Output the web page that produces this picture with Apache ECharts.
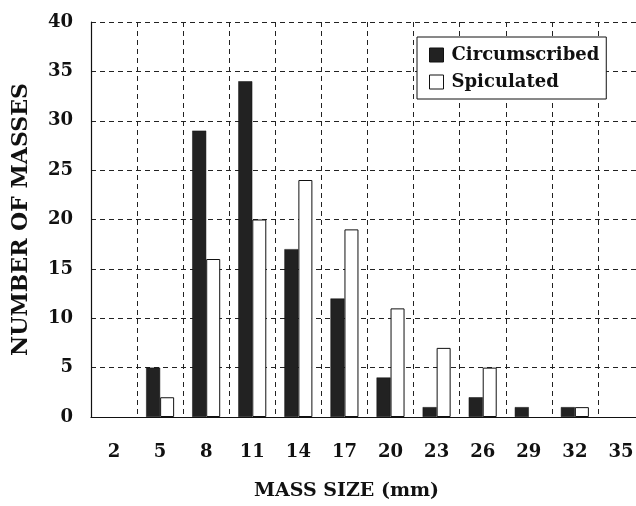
<!DOCTYPE html>
<html>
<head>
<meta charset="utf-8">
<script src="https://cdn.jsdelivr.net/npm/echarts@6/dist/echarts.min.js"></script>
<style>html,body{margin:0;padding:0;background:#fff;overflow:hidden;width:636px;height:506px;}#c{width:644px;height:506px;}</style>
</head>
<body>
<div id="c"></div>
<script>
var categories = ['2','5','8','11','14','17','20','23','26','29','32','35'];
var circumscribed = [0,5,29,34,17,12,4,1,2,1,1,0];
var spiculated = [0,2,16,20,24,19,11,7,5,0,1,0];
var yTicks = {min:0, max:40, interval:5};

function noZero(arr){ return arr.map(function(v){ return v === 0 ? null : v; }); }

var FONT = 'DejaVu Serif';
var chart = echarts.init(document.getElementById('c'), null, {renderer:'canvas'});
chart.setOption({
  animation:false,
  backgroundColor:'#fff',
  grid:{left:91, top:22, bottom:87, right:0, containLabel:false},
  legend:{
    left:417, top:37, orient:'vertical',
    padding:[9,7,8,12], itemGap:9,
    borderColor:'#111', borderWidth:1, backgroundColor:'#fff',
    itemWidth:14, itemHeight:14,
    textStyle:{fontFamily:FONT, fontWeight:'bold', fontSize:18, color:'#111', padding:[0,0,0,3]},
    data:[
      {name:'Circumscribed', icon:'rect', itemStyle:{color:'#222', borderColor:'#111', borderWidth:1}},
      {name:'Spiculated', icon:'rect', itemStyle:{color:'#fff', borderColor:'#111', borderWidth:1}}
    ]
  },
  xAxis:{
    type:'category', data:categories, boundaryGap:true,
    axisLine:{show:true, lineStyle:{color:'#111', width:1.2}},
    axisTick:{show:false},
    axisLabel:{margin:26, fontFamily:FONT, fontWeight:'bold', fontSize:18, color:'#111'},
    splitLine:{show:true, lineStyle:{color:'#222', type:[5,4], width:1}},
    name:'MASS SIZE (mm)', nameLocation:'middle', nameGap:65,
    nameTextStyle:{fontFamily:FONT, fontWeight:'bold', fontSize:19, color:'#111', padding:[0,42,0,0]}
  },
  yAxis:{
    type:'value', min:yTicks.min, max:yTicks.max, interval:yTicks.interval,
    axisLine:{show:true, lineStyle:{color:'#111', width:1.2}},
    axisTick:{show:false},
    axisLabel:{margin:18, fontFamily:FONT, fontWeight:'bold', fontSize:18, color:'#111'},
    splitLine:{show:true, lineStyle:{color:'#222', type:[5,4], width:1}},
    name:'NUMBER OF MASSES', nameLocation:'middle', nameGap:59, nameRotate:90,
    nameTextStyle:{fontFamily:FONT, fontWeight:'bold', fontSize:22, color:'#111'}
  },
  series:[
    {name:'Circumscribed', type:'bar', data:noZero(circumscribed), barWidth:14, barGap:'0%',
     itemStyle:{color:'#222', borderColor:'#111', borderWidth:0.5}},
    {name:'Spiculated', type:'bar', data:noZero(spiculated), barWidth:14, barGap:'0%',
     itemStyle:{color:'#fff', borderColor:'#111', borderWidth:1}}
  ]
});
</script>
</body>
</html>
